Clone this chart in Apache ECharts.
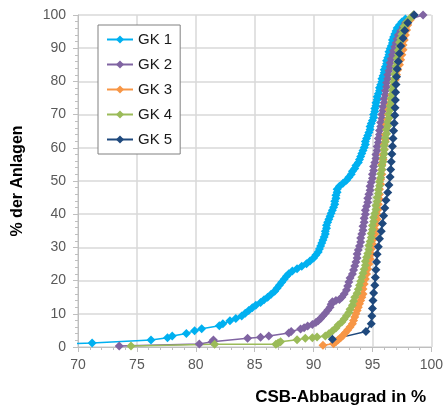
<!DOCTYPE html>
<html>
<head>
<meta charset="utf-8">
<script src="https://cdn.jsdelivr.net/npm/echarts@6/dist/echarts.min.js"></script>
<style>
  html, body { margin: 0; padding: 0; background: #fff; }
  #chart { width: 446px; height: 411px; }
</style>
</head>
<body>
<div id="chart"></div>
<script>
var seriesNames = ['GK 1', 'GK 2', 'GK 3', 'GK 4', 'GK 5'];
var colors = ['#00B0F0', '#8064A2', '#F79646', '#9BBB59', '#1F497D'];
var xTicks = [70, 75, 80, 85, 90, 95, 100];
var yTicks = [0, 10, 20, 30, 40, 50, 60, 70, 80, 90, 100];

// [CSB-Abbaugrad %, % der Anlagen]
var gk1 = [[66.0,0.7],[71.2,1.2],[76.2,2.1],[77.6,2.8],[78.0,3.3],[79.2,4.1],[79.9,4.9],[80.5,5.5],[82.0,6.4],[82.3,7.0],
  [82.9,7.9],[83.4,8.6],[83.9,9.3],[84.2,10.2],[84.5,11.0],[84.8,11.8],[85.1,12.6],[85.5,13.4],[85.8,14.2],[86.1,15.0],
  [86.4,15.9],[86.7,16.8],[86.9,17.7],[87.1,18.6],[87.3,19.5],[87.5,20.4],[87.7,21.3],[87.9,22.1],[88.2,22.9],[88.6,23.6],
  [89.0,24.3],[89.4,25.1],[89.7,25.9],[90.0,26.8],[90.2,27.7],[90.4,28.6],[90.5,29.5],[90.6,30.4],[90.7,31.3],[90.8,32.2],
  [90.9,33.1],[91.0,34.0],[91.0,34.9],[91.1,35.8],[91.1,36.7],[91.2,37.6],[91.3,38.5],[91.4,39.4],[91.5,40.3],[91.6,41.2],
  [91.7,42.1],[91.8,43.0],[91.8,43.9],[91.9,44.8],[91.9,45.7],[92.0,46.6],[92.0,47.5],[92.2,48.4],[92.5,49.3],[92.8,50.2],
  [93.0,51.1],[93.2,52.0],[93.3,52.9],[93.5,53.8],[93.6,54.7],[93.8,55.6],[93.9,56.5],[94.0,57.4],[94.1,58.3],[94.2,59.2],
  [94.3,60.1],[94.4,61.0],[94.4,61.9],[94.5,62.8],[94.6,63.7],[94.7,64.6],[94.8,65.5],[94.8,66.4],[94.9,67.3],[95.0,68.2],
  [95.1,69.1],[95.1,70.0],[95.2,70.9],[95.2,71.8],[95.3,72.7],[95.3,73.6],[95.4,74.5],[95.4,75.4],[95.5,76.3],[95.6,77.2],
  [95.6,78.1],[95.7,79.0],[95.8,79.9],[95.8,80.8],[95.9,81.7],[96.0,82.6],[96.0,83.5],[96.1,84.4],[96.2,85.3],[96.2,86.2],
  [96.3,87.1],[96.4,88.0],[96.4,88.9],[96.5,89.8],[96.6,90.7],[96.7,91.6],[96.7,92.5],[96.8,93.4],[96.9,94.3],[97.0,95.2],
  [97.1,96.1],[97.3,97.0],[97.5,97.9],[97.8,98.8],[98.5,100]];

var gk2 = [[73.5,0.3],[80.3,0.9],[81.4,1.6],[81.5,2.1],[84.4,2.6],[85.5,2.9],[86.2,3.3],[87.9,4.2],[88.1,4.7],[88.9,5.4],
  [89.2,5.8],[89.5,6.3],[89.9,6.8],[90.2,7.4],[90.4,7.9],[90.6,8.6],[90.8,9.4],[91.0,10.2],[91.2,11.1],[91.4,12.0],
  [91.5,12.9],[91.6,13.6],[91.9,14.0],[92.2,14.3],[92.4,15.0],[92.6,16.0],[92.8,17.2],[92.9,18.4],[93.0,19.6],[93.1,20.8],
  [93.3,22.0],[93.4,23.2],[93.5,24.4],[93.6,25.6],[93.7,26.8],[93.7,28.0],[93.8,29.2],[93.9,30.4],[94.0,31.6],[94.0,32.8],
  [94.1,34.0],[94.2,35.2],[94.2,36.4],[94.3,37.6],[94.3,38.8],[94.4,40.0],[94.4,41.2],[94.5,42.4],[94.6,43.6],[94.6,44.8],
  [94.7,46.0],[94.8,47.2],[94.8,48.4],[94.9,49.6],[95.0,50.8],[95.0,52.0],[95.1,53.2],[95.1,54.4],[95.2,55.6],[95.3,56.8],
  [95.3,58.0],[95.4,59.2],[95.4,60.4],[95.5,61.6],[95.5,62.8],[95.6,64.0],[95.6,65.2],[95.7,66.4],[95.7,67.6],[95.8,68.8],
  [95.8,70.0],[95.9,71.2],[95.9,72.4],[96.0,73.6],[96.0,74.8],[96.1,76.0],[96.1,77.2],[96.2,78.4],[96.2,79.6],[96.3,80.8],
  [96.3,82.0],[96.4,83.2],[96.5,84.4],[96.5,85.6],[96.6,86.8],[96.7,88.0],[96.8,89.2],[96.9,90.4],[97.0,91.6],[97.1,92.8],
  [97.2,94.0],[97.4,95.2],[97.6,96.4],[97.8,97.6],[98.2,98.8],[99.3,100]];

var gk3 = [[90.8,0.5],[91.7,1.0],[91.9,1.6],[92.1,2.2],[92.3,2.8],[92.5,3.5],[92.7,4.3],[92.9,5.1],[93.1,6.0],[93.3,7.0],
  [93.4,8.0],[93.5,9.0],[93.6,10.0],[93.7,11.0],[93.8,12.0],[93.9,13.0],[94.0,14.0],[94.1,15.0],[94.2,16.0],[94.2,17.5],
  [94.3,19.0],[94.4,20.5],[94.5,22.0],[94.6,23.5],[94.7,25.0],[94.8,26.5],[94.9,28.0],[94.9,29.5],[95.0,31.0],[95.1,32.5],
  [95.2,34.0],[95.2,35.5],[95.3,37.0],[95.4,38.5],[95.4,40.0],[95.5,41.5],[95.5,43.0],[95.6,44.5],[95.6,46.0],[95.6,47.5],
  [95.7,49.0],[95.7,50.5],[95.8,52.0],[95.8,53.5],[95.8,55.0],[95.9,56.5],[95.9,58.0],[96.0,59.5],[96.0,61.0],[96.1,62.5],
  [96.1,64.0],[96.2,65.5],[96.2,67.0],[96.3,68.5],[96.35,70.0],[96.4,71.5],[96.5,73.0],[96.6,74.5],[96.65,76.0],[96.75,77.5],
  [96.85,79.0],[96.95,80.5],[97.05,82.0],[97.15,83.5],[97.3,85.0],[97.4,86.5],[97.5,88.0],[97.6,89.5],[97.6,91.0],[97.7,92.5],
  [97.8,94.0],[97.9,95.5],[98.0,97.0],[98.2,98.5],[98.5,100]];

var gk4 = [[74.5,0.3],[81.6,0.8],[86.8,0.8],[87.0,1.2],[87.2,1.6],[88.6,2.2],[89.3,2.6],[89.9,2.8],[90.3,3.0],[91.0,3.3],
  [91.3,4.0],[91.6,4.8],[91.9,5.7],[92.1,6.6],[92.4,7.5],[92.6,8.4],[92.8,9.4],[93.0,10.4],[93.1,11.4],[93.3,12.6],
  [93.4,13.8],[93.5,15.0],[93.7,16.2],[93.8,17.4],[93.9,18.6],[94.0,19.8],[94.1,21.0],[94.2,22.2],[94.3,23.4],[94.4,24.6],
  [94.4,25.8],[94.5,27.0],[94.6,28.2],[94.7,29.4],[94.7,30.6],[94.8,31.8],[94.9,33.0],[94.9,34.2],[95.0,35.4],[95.0,36.6],
  [95.1,37.8],[95.1,39.0],[95.2,40.2],[95.3,41.4],[95.3,42.6],[95.4,43.8],[95.4,45.0],[95.5,46.2],[95.5,47.4],[95.6,48.6],
  [95.6,49.8],[95.7,51.0],[95.7,52.2],[95.8,53.4],[95.8,54.6],[95.9,55.8],[95.9,57.0],[96.0,58.2],[96.0,59.4],[96.0,60.6],
  [96.1,61.8],[96.1,63.0],[96.2,64.2],[96.2,65.4],[96.3,66.6],[96.3,67.8],[96.4,69.0],[96.4,70.2],[96.5,71.4],[96.5,72.6],
  [96.6,73.8],[96.6,75.0],[96.7,76.2],[96.7,77.4],[96.8,78.6],[96.8,79.8],[96.9,81.0],[96.9,82.2],[97.0,83.4],[97.0,84.6],
  [97.1,85.8],[97.1,87.0],[97.2,88.2],[97.2,89.4],[97.3,90.6],[97.3,91.8],[97.4,93.0],[97.5,94.2],[97.6,95.4],[97.7,96.6],
  [97.9,97.8],[98.2,99.0],[98.5,100]];

var gk5 = [[91.6,2.3],[94.45,4.7],[94.9,7.0],[94.95,9.3],[95.0,11.6],[95.05,14.0],[95.1,16.3],[95.2,18.6],[95.25,20.9],[95.3,23.3],
  [95.35,25.6],[95.4,27.9],[95.5,30.2],[95.6,32.6],[95.75,34.9],[95.85,37.2],[95.95,39.5],[96.05,41.9],[96.15,44.2],[96.3,46.5],
  [96.4,48.8],[96.5,51.2],[96.55,53.5],[96.6,55.8],[96.65,58.1],[96.7,60.5],[96.75,62.8],[96.8,65.1],[96.85,67.4],[96.9,69.8],
  [96.92,72.1],[96.95,74.4],[96.97,76.7],[97.0,79.1],[97.05,81.4],[97.1,83.7],[97.2,86.0],[97.3,88.4],[97.4,90.7],[97.6,93.0],
  [97.75,95.3],[98.0,97.7],[98.55,100]];

var allData = [gk1, gk2, gk3, gk4, gk5];

var myChart = echarts.init(document.getElementById('chart'), null, { renderer: 'canvas' });

var series = [];
for (var i = 0; i < seriesNames.length; i++) {
  series.push({
    name: seriesNames[i],
    type: 'line',
    data: allData[i],
    symbol: 'diamond',
    symbolSize: 9,
    showAllSymbol: true,
    clip: true,
    lineStyle: { width: 1.5, color: colors[i] },
    itemStyle: { color: colors[i] },
    emphasis: { disabled: true }
  });
}

var axisFont = 'Liberation Sans, Arial, sans-serif';

myChart.setOption({
  animation: false,
  color: colors,
  grid: { left: 78, right: 13, top: 15, bottom: 58, containLabel: false },
  legend: {
    data: seriesNames,
    orient: 'vertical',
    left: 98,
    top: 25,
    padding: [6, 8, 6, 8],
    itemWidth: 26,
    itemHeight: 10,
    itemGap: 8,
    backgroundColor: '#fff',
    borderColor: '#808080',
    borderWidth: 1,
    textStyle: { fontFamily: axisFont, fontSize: 15, color: '#1a1a1a', lineHeight: 17 }
  },
  xAxis: {
    type: 'value',
    min: 70,
    max: 100,
    interval: 5,
    name: 'CSB-Abbaugrad in %',
    nameLocation: 'middle',
    nameGap: 42,
    nameTextStyle: { fontFamily: axisFont, fontSize: 17, fontWeight: 'bold', color: '#000', padding: [0, 0, 0, 172] },
    axisLine: { show: true, lineStyle: { color: '#bfbfbf', width: 1 } },
    axisTick: { show: true, length: 5, lineStyle: { color: '#bfbfbf' } },
    minorTick: { show: true, splitNumber: 5, length: 3, lineStyle: { color: '#bfbfbf' } },
    axisLabel: { fontFamily: axisFont, fontSize: 14, color: '#595959', margin: 11 },
    splitLine: { show: true, lineStyle: { color: '#d9d9d9', width: 1.5 } }
  },
  yAxis: {
    type: 'value',
    min: 0,
    max: 100,
    interval: 10,
    name: '% der Anlagen',
    nameLocation: 'middle',
    nameRotate: 90,
    nameGap: 52,
    nameTextStyle: { fontFamily: axisFont, fontSize: 16, fontWeight: 'bold', color: '#000' },
    axisLine: { show: true, lineStyle: { color: '#bfbfbf', width: 1 } },
    axisTick: { show: true, length: 5, lineStyle: { color: '#bfbfbf' } },
    minorTick: { show: true, splitNumber: 5, length: 3, lineStyle: { color: '#bfbfbf' } },
    axisLabel: { fontFamily: axisFont, fontSize: 14, color: '#595959', margin: 12 },
    splitLine: { show: true, lineStyle: { color: '#d9d9d9', width: 1.5 } }
  },
  series: series
});
</script>
</body>
</html>
